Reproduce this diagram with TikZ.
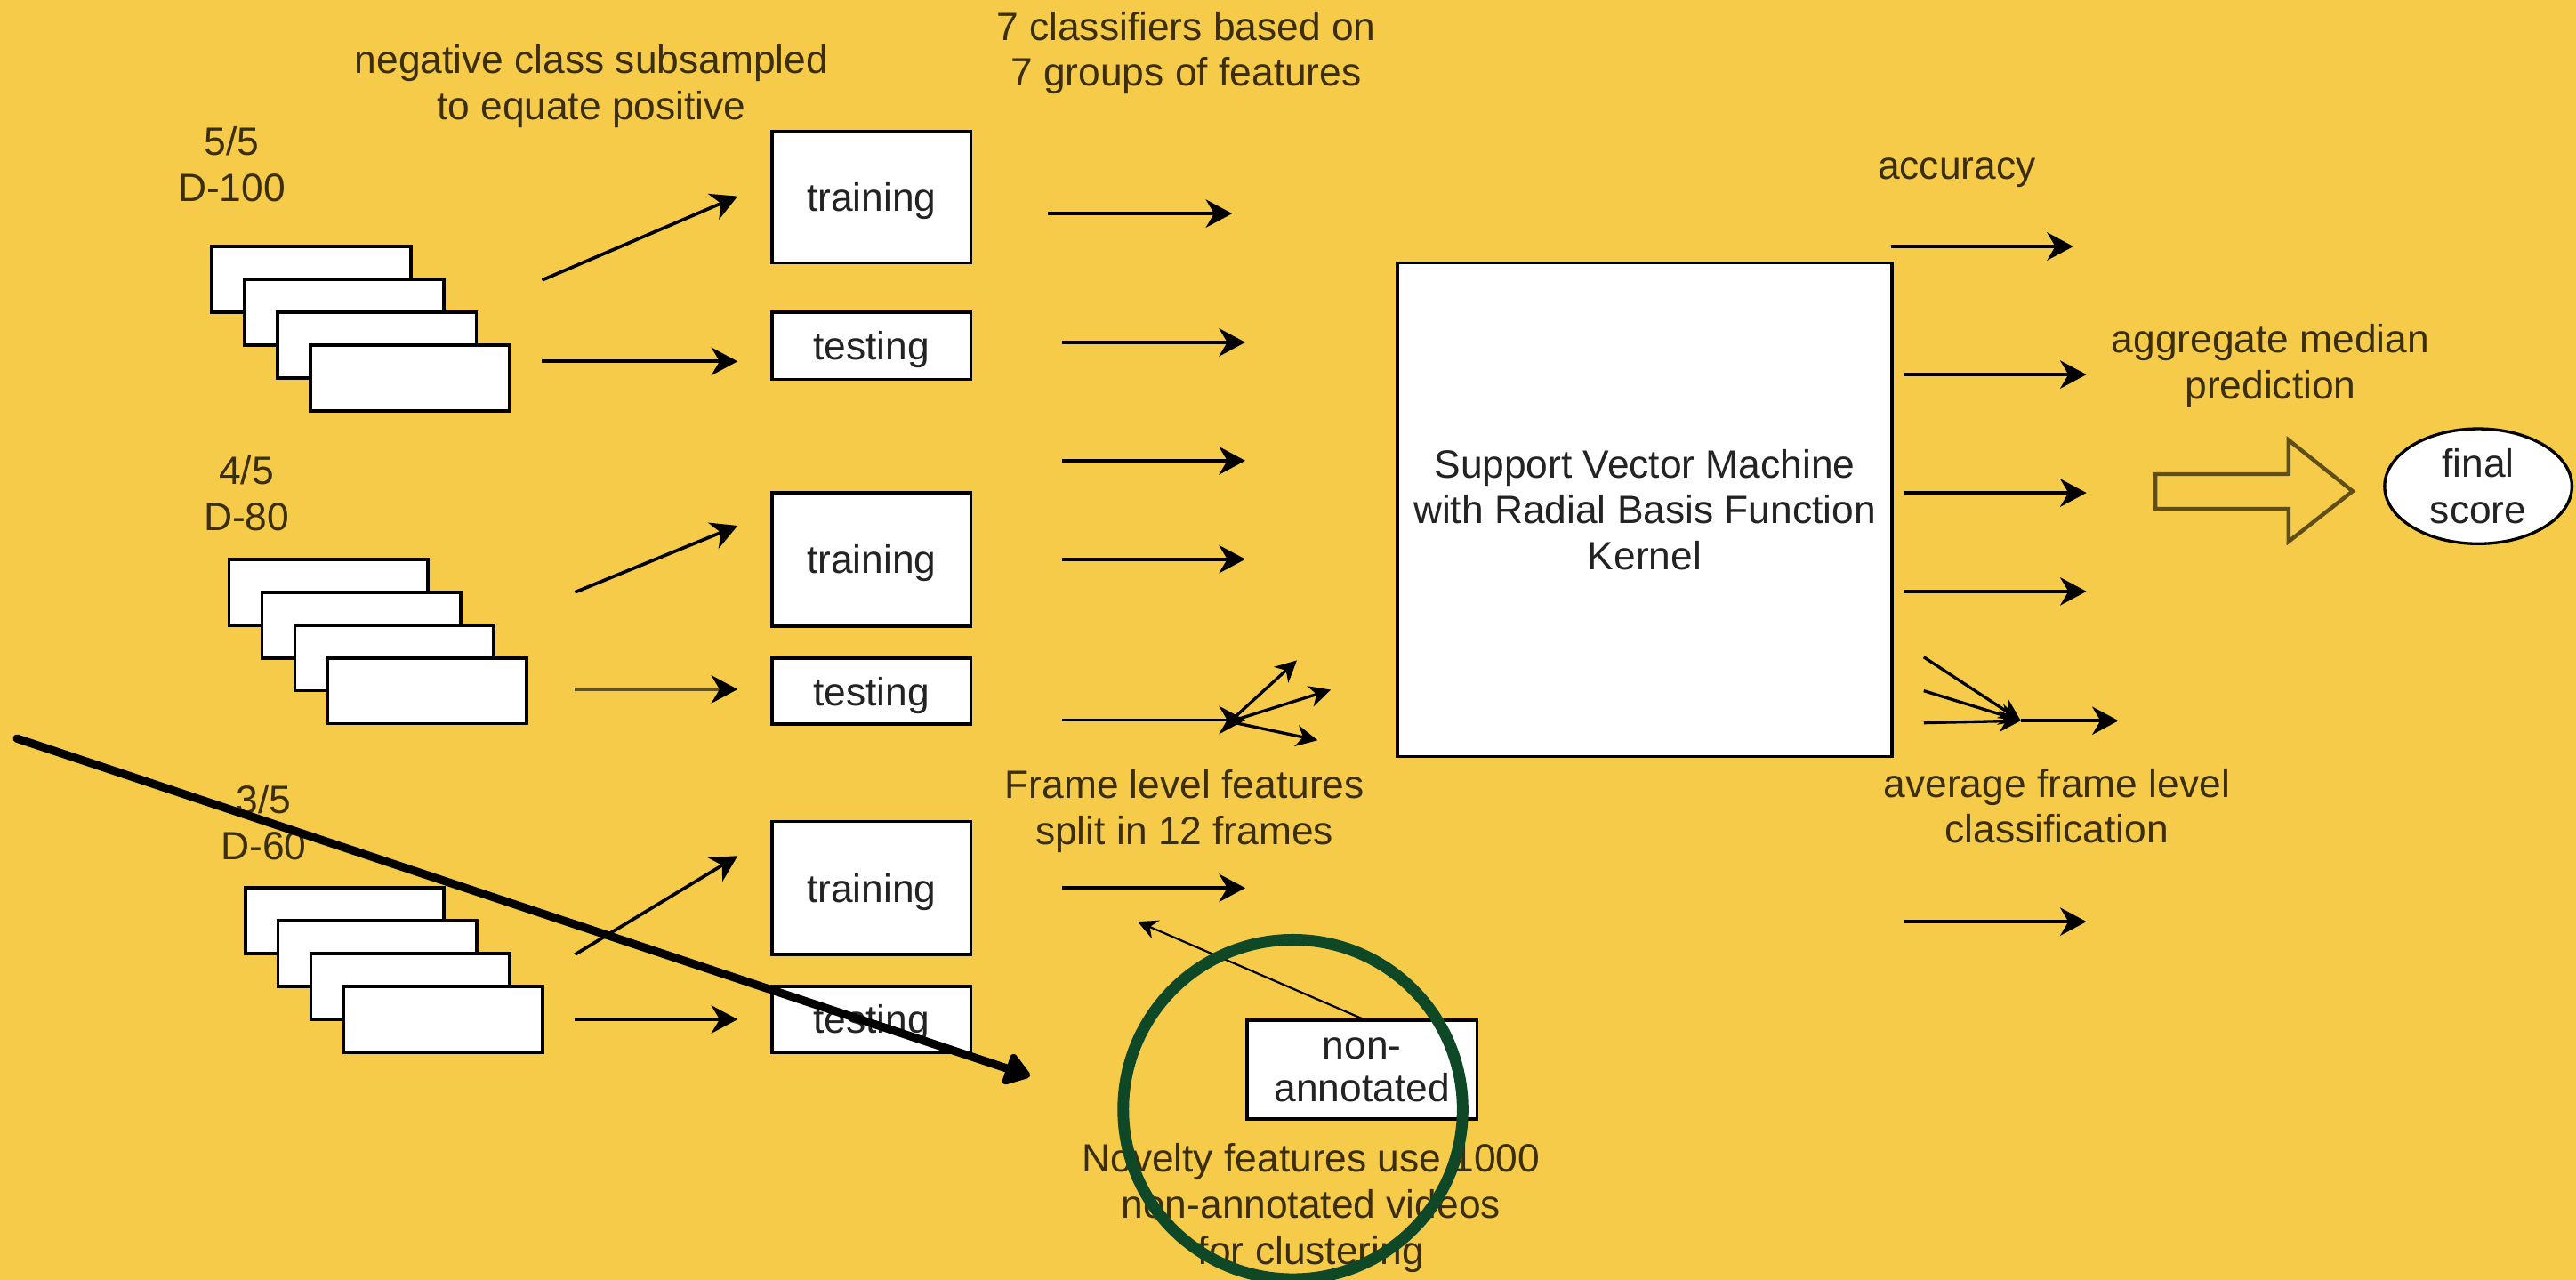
\documentclass[tikz,border=0pt]{standalone}
\usepackage{fontspec}
\setmainfont{Liberation Sans}
\usetikzlibrary{arrows.meta,shapes.geometric}
\definecolor{bg}{RGB}{246,203,74}
\definecolor{lbltxt}{RGB}{58,46,12}
\definecolor{boxtxt}{RGB}{35,35,35}
\definecolor{ringgreen}{RGB}{14,72,38}
\definecolor{blockbrown}{RGB}{95,78,24}
\definecolor{fadeline}{RGB}{100,80,26}
\newcommand\diafont{\fontsize{12pt}{14pt}\selectfont}
\begin{document}
\begin{tikzpicture}[x=0.5pt,y=-0.5pt,
  lbl/.style={text=lbltxt, font=\diafont, align=center, inner sep=0pt},
  wbox/.style={draw=black, fill=white, line width=1pt, text=boxtxt, font=\diafont, align=center, inner sep=0pt, minimum width=60.5pt},
  onebox/.style={wbox, text height=8.6pt, text depth=0pt},
  stackbox/.style={draw=black, fill=white, line width=1pt, inner sep=0pt, minimum width=60.5pt, minimum height=20pt},
  arr/.style={line width=1pt, -{Stealth[length=8pt,width=8.5pt,inset=2.5pt]}},
  fanarr/.style={line width=0.9pt, -{Stealth[length=6.5pt,width=6.5pt,inset=2pt]}},
  thinarr/.style={line width=0.6pt, -{Stealth[length=6pt,width=6pt,inset=2pt]}},
  bigarr/.style={line width=2.5pt, line cap=round, -{Triangle[length=8.5pt,width=11pt,round]}},
]
\fill[bg] (0,0) rectangle (1568,779);
\useasboundingbox (0,0) rectangle (1568,779);

% stacked data boxes
\foreach \i in {0,1,2,3} {
  \node[stackbox] (sa\i) at (189.5+20*\i,170+20*\i) {};
  \node[stackbox] (sb\i) at (200+20*\i,360.5+20*\i) {};
  \node[stackbox] (sc\i) at (209.75+20*\i,560.5+20*\i) {};
}

% labels
\node[lbl] (l100) at (141,100) {5/5\\D-100};
\node[lbl] (l80) at (150,300.5) {4/5\\D-80};
\node[lbl] (l60) at (160.5,500.6) {3/5\\D-60};
\node[lbl] (neg) at (360,52.5) {negative class subsampled\\to equate positive};
\node[lbl] (cls7) at (722,32.3) {7 classifiers based on\\7 groups of features};
\node[lbl] (frame) at (721,493.8) {Frame level features\\split in 12 frames};
\node[lbl] (novel) at (798,735.4) {Novelty features use 1000\\non-annotated videos\\for clustering};
\node[lbl] (acc) at (1191,105) {accuracy};
\node[lbl] (aggmed) at (1382,222.5) {aggregate median\\prediction};
\node[lbl] (avgframe) at (1252,490.6) {average frame level\\classification};

% training / testing boxes
\node[onebox, minimum height=40pt] (tr1) at (530.5,120) {training};
\node[onebox, minimum height=20.5pt] (te1) at (530.5,210.5) {testing};
\node[onebox, minimum height=40.5pt] (tr2) at (530.5,340.5) {training};
\node[onebox, minimum height=20pt] (te2) at (530.5,420.8) {testing};
\node[onebox, minimum height=40.5pt] (tr3) at (530.5,540.5) {training};
\node[onebox, minimum height=20pt] (te3) at (530.5,620.5) {testing};

% SVM box
\node[wbox, minimum width=150.5pt, minimum height=150.25pt] (svm) at (1001.1,310.25)
  {Support Vector Machine\\with Radial Basis Function\\Kernel};

% non-annotated box
\node[wbox, minimum width=70pt, minimum height=30pt, font=\fontsize{12pt}{13pt}\selectfont] (nonann) at (829,651) {non-\\annotated};

% final score
\node[ellipse, draw=black, fill=white, line width=0.9pt, text=boxtxt, font=\diafont, align=center,
  inner sep=0pt, minimum width=57pt, minimum height=35pt] (final) at (1508.5,296) {final\\score};

% left arrows
\coordinate (a1s) at (330,170.5); \coordinate (a1e) at (449,119.5);
\coordinate (a2s) at (330,220);   \coordinate (a2e) at (449,220);
\coordinate (a3s) at (350,360.5); \coordinate (a3e) at (449,320);
\coordinate (a4s) at (350,419.6); \coordinate (a4e) at (449,419.6);
\coordinate (a5s) at (350,581);   \coordinate (a5e) at (449,521);
\coordinate (a6s) at (350,620.5); \coordinate (a6e) at (449,620.5);
\draw[arr] (a1s) -- (a1e);
\draw[arr] (a2s) -- (a2e);
\draw[arr] (a3s) -- (a3e);
\draw[line width=1.2pt, draw=fadeline, -{Stealth[length=8pt,width=8.5pt,inset=2.5pt,black]}] (a4s) -- (a4e);
\draw[arr] (a5s) -- (a5e);
\draw[arr] (a6s) -- (a6e);

% middle arrows
\coordinate (m1s) at (638,130);     \coordinate (m1e) at (750,130);
\coordinate (m2s) at (646.7,208.4); \coordinate (m2e) at (758,208.4);
\coordinate (m3s) at (646.7,280.4); \coordinate (m3e) at (758,280.4);
\coordinate (m4s) at (646.7,340.4); \coordinate (m4e) at (758,340.4);
\coordinate (m5s) at (646.7,438.3); \coordinate (m5e) at (758,438.3);
\coordinate (m6s) at (646.7,540.5); \coordinate (m6e) at (758,540.5);
\draw[arr] (m1s) -- (m1e);
\draw[arr] (m2s) -- (m2e);
\draw[arr] (m3s) -- (m3e);
\draw[arr] (m4s) -- (m4e);
\draw[arr] (m5s) -- (m5e);
\draw[arr] (m6s) -- (m6e);
\coordinate (fan) at (748.6,439.3);
\coordinate (fan1) at (789.4,402);
\coordinate (fan2) at (810,419.9);
\coordinate (fan3) at (802,450.6);
\draw[fanarr] (fan) -- (fan1);
\draw[fanarr] (fan) -- (fan2);
\draw[fanarr] (fan) -- (fan3);
\coordinate (naend) at (692.5,561);
\draw[thinarr] (nonann.north) -- (naend);

% right arrows
\coordinate (r1s) at (1151,150);    \coordinate (r1e) at (1262,150);
\coordinate (r2s) at (1158.6,228);  \coordinate (r2e) at (1270,228);
\coordinate (r3s) at (1158.6,300);  \coordinate (r3e) at (1270,300);
\coordinate (r4s) at (1158.6,360);  \coordinate (r4e) at (1270,360);
\coordinate (r6s) at (1158.6,561);  \coordinate (r6e) at (1270,561);
\draw[arr] (r1s) -- (r1e);
\draw[arr] (r2s) -- (r2e);
\draw[arr] (r3s) -- (r3e);
\draw[arr] (r4s) -- (r4e);
\draw[arr] (r6s) -- (r6e);
\coordinate (cv1) at (1171,400);
\coordinate (cv2) at (1171,420.5);
\coordinate (cv3) at (1171,440);
\coordinate (cvm) at (1230,438.7);
\coordinate (cve) at (1289.5,438.7);
\draw[fanarr] (cv1) -- (cvm);
\draw[fanarr] (cv2) -- (cvm);
\draw[fanarr] (cv3) -- (cvm);
\draw[arr] (cvm) -- (cve);

% block arrow
\draw[blockbrown, line width=1.2pt, line join=miter]
  (1312,288.6) -- (1393,288.6) -- (1393,267.8) -- (1432,299) -- (1393,329.7)
  -- (1393,309.7) -- (1312,309.7) -- cycle;

% thick annotation arrow
\coordinate (bs) at (10.3,449.5);
\coordinate (be) at (627,655);
\draw[bigarr] (bs) -- (be);

% green circle
\draw[ringgreen, line width=3.5pt] (787,675.3) circle[radius=103.3];
\end{tikzpicture}
\end{document}
